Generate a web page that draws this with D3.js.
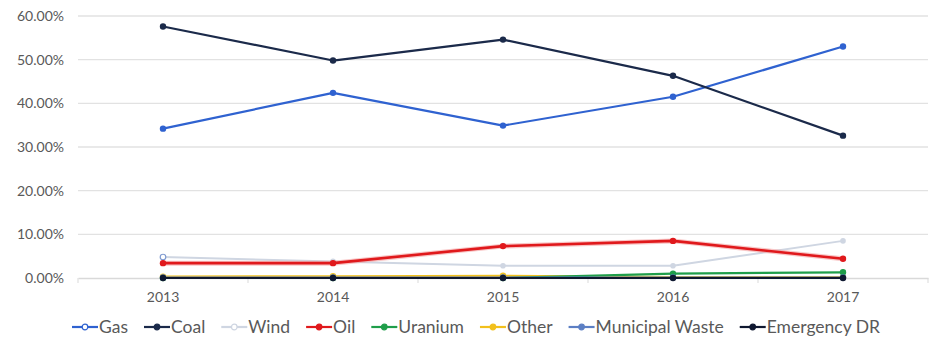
<!DOCTYPE html>
<html>
<head>
<meta charset="utf-8">
<script src="https://cdn.jsdelivr.net/npm/d3@7"></script>
<style>
  html, body { margin: 0; padding: 0; background: #fff; }
  svg { display: block; font-family: Lato, "Open Sans", sans-serif; }
</style>
</head>
<body>
<svg id="chart" width="931" height="338"></svg>
<script>
// Share of generation by fuel, 2013–2017 (percent)
const years = ["2013", "2014", "2015", "2016", "2017"];
const yTicks = [0, 10, 20, 30, 40, 50, 60];

const gas        = [34.2, 42.4, 34.9, 41.5, 53.0];
const coal       = [57.6, 49.8, 54.6, 46.3, 32.6];
const wind       = [4.8, 3.8, 2.8, 2.8, 8.5];
const oil        = [3.4, 3.4, 7.3, 8.5, 4.4];
const uranium    = [0.0, 0.0, 0.0, 1.0, 1.3];
const other      = [0.3, 0.4, 0.5, 0.2, 0.2];
const municipal  = [0.1, 0.1, 0.1, 0.1, 0.1];
const emergency  = [0.0, 0.0, 0.0, 0.0, 0.0];

const seriesNames  = ["Gas", "Coal", "Wind", "Oil", "Uranium", "Other", "Municipal Waste", "Emergency DR"];
const seriesValues = [gas, coal, wind, oil, uranium, other, municipal, emergency];
const seriesColors = ["#2f62d0", "#1b2a4a", "#cfd6e2", "#e0191c", "#1f9e4a", "#f2c01c", "#5c7fc4", "#0f1830"];

const series = seriesNames.map((name, i) => ({ name, values: seriesValues[i], color: seriesColors[i] }));

const svg = d3.select("#chart");
const margin = { left: 78, right: 3, top: 16, bottom: 60 };
const W = 931, H = 338;

const x = d3.scaleBand().domain(years).range([margin.left, W - margin.right]);
const y = d3.scaleLinear().domain([0, 60]).range([278, margin.top]);

// gridlines
svg.append("g").selectAll("line").data(yTicks.filter(d => d > 0)).join("line")
  .attr("x1", margin.left).attr("x2", W - margin.right)
  .attr("y1", d => y(d)).attr("y2", d => y(d))
  .attr("stroke", "#e2e2e2").attr("stroke-width", 1.3);

// y axis labels
const yAxis = svg.append("g").attr("transform", `translate(${margin.left},0)`)
  .call(d3.axisLeft(y).tickValues(yTicks).tickFormat(d => d3.format(".2f")(d) + "%").tickSize(0).tickPadding(14));
yAxis.select(".domain").remove();
yAxis.selectAll("text").attr("font-size", 14).attr("fill", "#595959").attr("font-family", "Lato, sans-serif");

// x axis
const xAxis = svg.append("g").attr("transform", `translate(0,${y(0)})`)
  .call(d3.axisBottom(x).tickSize(0).tickPadding(14));
xAxis.select(".domain").attr("stroke", "#d9d9d9").attr("stroke-width", 1.3);
xAxis.selectAll("text").attr("font-size", 14).attr("fill", "#595959").attr("font-family", "Lato, sans-serif");
// category boundary ticks
svg.append("g").selectAll("line").data(years.concat(["end"])).join("line")
  .attr("x1", (d, i) => margin.left + i * x.step())
  .attr("x2", (d, i) => margin.left + i * x.step())
  .attr("y1", y(0)).attr("y2", y(0) + 5)
  .attr("stroke", "#d9d9d9").attr("stroke-width", 1);

const line = d3.line().x((d, i) => x(years[i]) + x.bandwidth() / 2).y(d => y(d));

// draw order: small series beneath, main lines on top
const drawOrder = ["Wind", "Other", "Uranium", "Municipal Waste", "Emergency DR", "Oil", "Gas", "Coal"];
const plot = svg.append("g");
drawOrder.forEach(name => {
  const s = series.find(d => d.name === name);
  const g = plot.append("g");
  if (name === "Oil") {
    g.append("path").attr("d", line(s.values)).attr("fill", "none")
      .attr("stroke", "#f4a0a0").attr("stroke-width", 5).attr("opacity", 0.6);
  }
  g.append("path").attr("d", line(s.values)).attr("fill", "none")
    .attr("stroke", s.color)
    .attr("stroke-width", name === "Oil" ? 2.6 : (name === "Wind" ? 2 : 2.2))
    .attr("stroke-linejoin", "round");
  g.selectAll("circle").data(s.values).join("circle")
    .attr("cx", (d, i) => x(years[i]) + x.bandwidth() / 2)
    .attr("cy", d => y(d))
    .attr("r", name === "Wind" ? 2.8 : 3.2)
    .attr("fill", (d, i) => name === "Wind" && i === 0 ? "#fff" : s.color)
    .attr("stroke", (d, i) => name === "Wind" && i === 0 ? "#7f9ad0" : "none")
    .attr("stroke-width", 1.2);
});

// legend
const legend = svg.append("g").attr("transform", "translate(0,327)");
let lx = 72;
series.forEach(s => {
  const item = legend.append("g").attr("transform", `translate(${lx},0)`);
  item.append("line").attr("x1", 0).attr("x2", 26).attr("y1", 0).attr("y2", 0)
    .attr("stroke", s.color).attr("stroke-width", 2.2);
  const hollow = s.name === "Gas" || s.name === "Wind";
  item.append("circle").attr("cx", 13).attr("cy", 0).attr("r", 2.8)
    .attr("fill", hollow ? "#fff" : s.color)
    .attr("stroke", s.color).attr("stroke-width", 1.2);
  const t = item.append("text").attr("x", 27).attr("y", 6)
    .attr("font-size", 17.5).attr("fill", "#595959").text(s.name);
  const w = t.node().getComputedTextLength();
  lx += 27 + w + 16;
});
</script>
</body>
</html>
